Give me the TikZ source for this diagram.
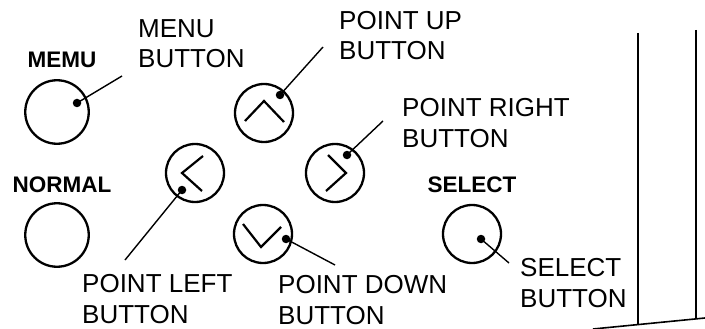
\documentclass[tikz,border=0pt]{standalone}
\usepackage{fontspec}
\setmainfont{Liberation Sans}
\usepackage{tikz}
\usetikzlibrary{calc}

\begin{document}
\begin{tikzpicture}[x=1pt,y=-1pt,
    btn/.style={circle,draw,line width=2.3pt,inner sep=0pt},
    dot/.style={circle,fill,inner sep=0pt,minimum size=8.5pt},
    chev/.style={line width=2.2pt},
    lead/.style={line width=1.4pt},
    lbl/.style={align=left,anchor=base west,inner sep=0pt,
      font=\fontsize{26}{30.5}\selectfont},
    ttl/.style={anchor=base,inner sep=0pt,
      font=\fontsize{22.5}{27}\selectfont\bfseries}]
  \useasboundingbox (0,0) rectangle (705,329);
  % buttons
  \node[btn,minimum size=63.5pt] (menu) at (57,112) {};
  \node[btn,minimum size=63.5pt] (normal) at (57,235) {};
  \node[btn,minimum size=58pt] (up) at (264,113) {};
  \node[btn,minimum size=58pt] (left) at (195,173) {};
  \node[btn,minimum size=58pt] (right) at (335,173) {};
  \node[btn,minimum size=58pt] (down) at (263,234) {};
  \node[btn,minimum size=58pt] (select) at (472,234) {};
  % chevrons
  \draw[chev] ($(up)+(-19,8)$) -- ++(19,-20) -- ++(20,21);
  \draw[chev] ($(left)+(8,-17)$) -- ++(-21,17) -- ++(20,18);
  \draw[chev] ($(right)+(-7,-18)$) -- ++(18,18) -- ++(-20,18);
  \draw[chev] ($(down)+(-20,-10)$) -- ++(18,23) -- ++(20,-20);
  % dots
  \node[dot] (menu dot) at ($(menu)+(20,-9)$) {};
  \node[dot] (up dot) at ($(up)+(16,-18)$) {};
  \node[dot] (left dot) at ($(left)+(-13,17)$) {};
  \node[dot] (right dot) at ($(right)+(12,-18)$) {};
  \node[dot] (down dot) at ($(down)+(23,5)$) {};
  \node[dot] (select dot) at ($(select)+(9,5)$) {};
  % leader ends
  \coordinate (menu end) at (122,76);
  \coordinate (up end) at (323,47);
  \coordinate (left end) at (125,260);
  \coordinate (right end) at (383,121);
  \coordinate (down end) at (335,265);
  \coordinate (select end) at (509,263);
  \foreach \b in {menu,up,left,right,down,select}
    \draw[lead] (\b\space dot.center) -- (\b\space end);
  % titles
  \node[ttl] (menu ttl) at (62,68) {MEMU};
  \node[ttl] (normal ttl) at (62,192) {NORMAL};
  \node[ttl] (select ttl) at (472,192) {SELECT};
  % labels (base = last line)
  \node[lbl] (menu lbl) at (138,68) {MENU\\BUTTON};
  \node[lbl] (up lbl) at (339,60) {POINT UP\\BUTTON};
  \node[lbl] (right lbl) at (402,147) {POINT RIGHT\\BUTTON};
  \node[lbl] (left lbl) at (82,323) {POINT LEFT\\BUTTON};
  \node[lbl] (down lbl) at (278,324) {POINT DOWN\\BUTTON};
  \node[lbl] (select lbl) at (520,307) {SELECT\\BUTTON};
  % cabinet edge
  \draw[line width=1.8pt] (638,33) -- (638,324.6);
  \draw[line width=1.8pt] (696,30) -- (696,318.9);
  \draw[line width=1.6pt] (593,329) -- (705,318);
\end{tikzpicture}
\end{document}
